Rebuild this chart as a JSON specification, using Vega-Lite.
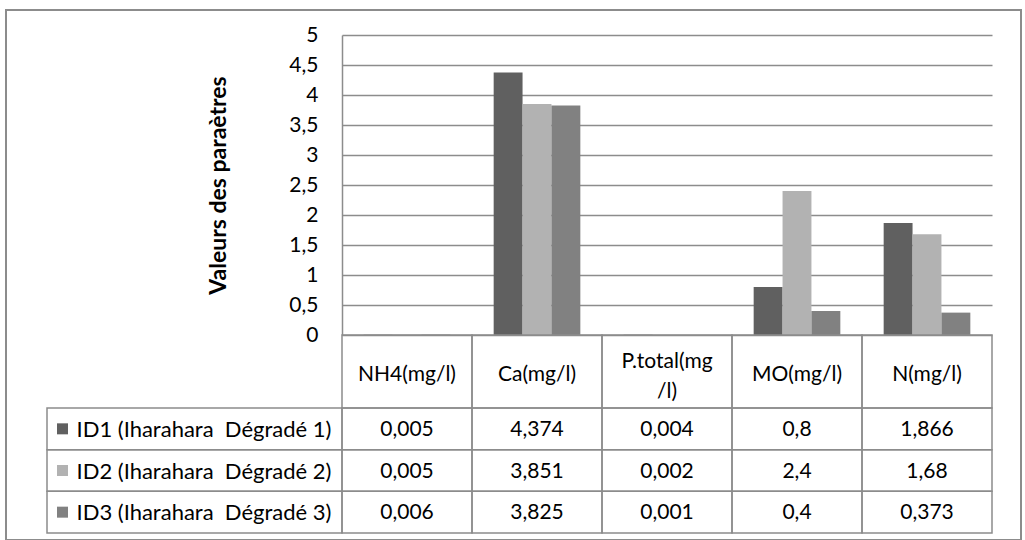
{
  "$schema": "https://vega.github.io/schema/vega-lite/v6.json",
  "width": 1015,
  "height": 530,
  "autosize": {"type": "none"},
  "padding": {"left": 6, "top": 10, "right": 4, "bottom": 0},
  "background": "white",
  "config": {
    "font": "Lato",
    "locale": {
      "number": {"decimal": ",", "thousands": " ", "grouping": [3], "currency": ["", " €"]}
    },
    "view": {"stroke": "#8c8c8c", "strokeWidth": 2},
    "text": {"font": "Lato", "fontSize": 21, "color": "#000000"}
  },
  "datasets": {
    "mesures": [
      {"parametre": "NH4(mg/l)", "serie": "ID1", "valeur": 0.005},
      {"parametre": "NH4(mg/l)", "serie": "ID2", "valeur": 0.005},
      {"parametre": "NH4(mg/l)", "serie": "ID3", "valeur": 0.006},
      {"parametre": "Ca(mg/l)", "serie": "ID1", "valeur": 4.374},
      {"parametre": "Ca(mg/l)", "serie": "ID2", "valeur": 3.851},
      {"parametre": "Ca(mg/l)", "serie": "ID3", "valeur": 3.825},
      {"parametre": "P.total(mg/l)", "serie": "ID1", "valeur": 0.004},
      {"parametre": "P.total(mg/l)", "serie": "ID2", "valeur": 0.002},
      {"parametre": "P.total(mg/l)", "serie": "ID3", "valeur": 0.001},
      {"parametre": "MO(mg/l)", "serie": "ID1", "valeur": 0.8},
      {"parametre": "MO(mg/l)", "serie": "ID2", "valeur": 2.4},
      {"parametre": "MO(mg/l)", "serie": "ID3", "valeur": 0.4},
      {"parametre": "N(mg/l)", "serie": "ID1", "valeur": 1.866},
      {"parametre": "N(mg/l)", "serie": "ID2", "valeur": 1.68},
      {"parametre": "N(mg/l)", "serie": "ID3", "valeur": 0.373}
    ],
    "parametres": [
      {"parametre": "NH4(mg/l)", "entete": "NH4(mg/l)", "lignes": 1},
      {"parametre": "Ca(mg/l)", "entete": "Ca(mg/l)", "lignes": 1},
      {"parametre": "P.total(mg/l)", "entete": "P.total(mg\n/l)", "lignes": 2},
      {"parametre": "MO(mg/l)", "entete": "MO(mg/l)", "lignes": 1},
      {"parametre": "N(mg/l)", "entete": "N(mg/l)", "lignes": 1}
    ],
    "series": [
      {"colonne": "légende", "serie": "ID1", "nom": "ID1 (Iharahara\u00a0 Dégradé 1)"},
      {"colonne": "légende", "serie": "ID2", "nom": "ID2 (Iharahara\u00a0 Dégradé 2)"},
      {"colonne": "légende", "serie": "ID3", "nom": "ID3 (Iharahara\u00a0 Dégradé 3)"}
    ]
  },
  "resolve": {"scale": {"x": "independent", "y": "independent"}},
  "layer": [
    {
      "data": {"name": "mesures"},
      "mark": {"type": "bar"},
      "encoding": {
        "x": {
          "field": "parametre", "type": "nominal",
          "scale": {
            "domain": ["NH4(mg/l)", "Ca(mg/l)", "P.total(mg/l)", "MO(mg/l)", "N(mg/l)"],
            "range": [336, 986], "paddingInner": 0.3333, "paddingOuter": 0.1667
          },
          "axis": null
        },
        "xOffset": {
          "field": "serie", "type": "nominal",
          "scale": {"domain": ["ID1", "ID2", "ID3"], "paddingInner": 0, "paddingOuter": 0}
        },
        "y": {
          "field": "valeur", "type": "quantitative",
          "scale": {"domain": [0, 5], "range": [325, 25], "nice": false},
          "axis": {
            "values": [0, 0.5, 1, 1.5, 2, 2.5, 3, 3.5, 4, 4.5, 5],
            "format": "~g",
            "offset": -336,
            "grid": true, "gridColor": "#8c8c8c", "gridWidth": 1.5,
            "domain": true, "domainColor": "#8c8c8c", "domainWidth": 1.5,
            "ticks": false, "tickSize": 0,
            "labelPadding": 24, "labelFont": "Lato", "labelFontSize": 21, "labelColor": "#000000",
            "title": "Valeurs des paraètres",
            "titleFont": "Lato", "titleFontSize": 23, "titleFontWeight": "bold", "titleColor": "#000000",
            "titlePadding": 58
          }
        },
        "color": {
          "field": "serie", "type": "nominal",
          "scale": {"domain": ["ID1", "ID2", "ID3"], "range": ["#606060", "#b2b2b2", "#818181"]},
          "legend": null
        }
      }
    },
    {
      "data": {"name": "parametres"},
      "mark": {"type": "rect", "fill": "transparent", "stroke": "#8c8c8c", "strokeWidth": 1.5},
      "encoding": {
        "x": {
          "field": "parametre", "type": "nominal",
          "scale": {
            "domain": ["NH4(mg/l)", "Ca(mg/l)", "P.total(mg/l)", "MO(mg/l)", "N(mg/l)"],
            "range": [336, 986], "paddingInner": 0, "paddingOuter": 0
          },
          "axis": null
        },
        "y": {
          "datum": "entête", "type": "nominal",
          "scale": {"domain": ["entête"], "range": [325, 398], "paddingInner": 0, "paddingOuter": 0},
          "axis": null
        }
      }
    },
    {
      "data": {"name": "parametres"},
      "transform": [{"filter": "datum.lignes == 1"}],
      "mark": {"type": "text", "baseline": "middle", "align": "center", "dy": 3},
      "encoding": {
        "x": {
          "field": "parametre", "type": "nominal",
          "scale": {
            "domain": ["NH4(mg/l)", "Ca(mg/l)", "P.total(mg/l)", "MO(mg/l)", "N(mg/l)"],
            "range": [336, 986], "paddingInner": 0, "paddingOuter": 0
          },
          "axis": null
        },
        "y": {
          "datum": "entête", "type": "nominal",
          "scale": {"domain": ["entête"], "range": [325, 398], "paddingInner": 0, "paddingOuter": 0},
          "axis": null
        },
        "text": {"field": "entete", "type": "nominal"}
      }
    },
    {
      "data": {"name": "parametres"},
      "transform": [{"filter": "datum.lignes == 2"}],
      "mark": {"type": "text", "lineBreak": "\n", "lineHeight": 30, "baseline": "middle", "align": "center", "dy": -10},
      "encoding": {
        "x": {
          "field": "parametre", "type": "nominal",
          "scale": {
            "domain": ["NH4(mg/l)", "Ca(mg/l)", "P.total(mg/l)", "MO(mg/l)", "N(mg/l)"],
            "range": [336, 986], "paddingInner": 0, "paddingOuter": 0
          },
          "axis": null
        },
        "y": {
          "datum": "entête", "type": "nominal",
          "scale": {"domain": ["entête"], "range": [325, 398], "paddingInner": 0, "paddingOuter": 0},
          "axis": null
        },
        "text": {"field": "entete", "type": "nominal"}
      }
    },
    {
      "data": {"name": "mesures"},
      "mark": {"type": "rect", "fill": "transparent", "stroke": "#8c8c8c", "strokeWidth": 1.5},
      "encoding": {
        "x": {
          "field": "parametre", "type": "nominal",
          "scale": {
            "domain": ["NH4(mg/l)", "Ca(mg/l)", "P.total(mg/l)", "MO(mg/l)", "N(mg/l)"],
            "range": [336, 986], "paddingInner": 0, "paddingOuter": 0
          },
          "axis": null
        },
        "y": {
          "field": "serie", "type": "nominal",
          "scale": {"domain": ["ID1", "ID2", "ID3"], "range": [398, 523], "paddingInner": 0, "paddingOuter": 0},
          "axis": null
        }
      }
    },
    {
      "data": {"name": "mesures"},
      "mark": {"type": "text", "baseline": "middle", "align": "center", "dy": 1},
      "encoding": {
        "x": {
          "field": "parametre", "type": "nominal",
          "scale": {
            "domain": ["NH4(mg/l)", "Ca(mg/l)", "P.total(mg/l)", "MO(mg/l)", "N(mg/l)"],
            "range": [336, 986], "paddingInner": 0, "paddingOuter": 0
          },
          "axis": null
        },
        "y": {
          "field": "serie", "type": "nominal",
          "scale": {"domain": ["ID1", "ID2", "ID3"], "range": [398, 523], "paddingInner": 0, "paddingOuter": 0},
          "axis": null
        },
        "text": {"field": "valeur", "type": "quantitative", "format": "~g"}
      }
    },
    {
      "data": {"name": "series"},
      "mark": {"type": "rect", "fill": "transparent", "stroke": "#8c8c8c", "strokeWidth": 1.5},
      "encoding": {
        "x": {
          "field": "colonne", "type": "nominal",
          "scale": {"domain": ["légende"], "range": [41, 336], "paddingInner": 0, "paddingOuter": 0},
          "axis": null
        },
        "y": {
          "field": "serie", "type": "nominal",
          "scale": {"domain": ["ID1", "ID2", "ID3"], "range": [398, 523], "paddingInner": 0, "paddingOuter": 0},
          "axis": null
        }
      }
    },
    {
      "data": {"name": "series"},
      "mark": {"type": "square", "size": 121, "filled": true, "opacity": 1, "xOffset": -132},
      "encoding": {
        "x": {
          "field": "colonne", "type": "nominal",
          "scale": {"domain": ["légende"], "range": [41, 336], "paddingInner": 0, "paddingOuter": 0},
          "axis": null
        },
        "y": {
          "field": "serie", "type": "nominal",
          "scale": {"domain": ["ID1", "ID2", "ID3"], "range": [398, 523], "paddingInner": 0, "paddingOuter": 0},
          "axis": null
        },
        "color": {"field": "serie", "type": "nominal", "legend": null}
      }
    },
    {
      "data": {"name": "series"},
      "mark": {"type": "text", "baseline": "middle", "align": "left", "fontSize": 22, "dx": -118, "dy": 1},
      "encoding": {
        "x": {
          "field": "colonne", "type": "nominal",
          "scale": {"domain": ["légende"], "range": [41, 336], "paddingInner": 0, "paddingOuter": 0},
          "axis": null
        },
        "y": {
          "field": "serie", "type": "nominal",
          "scale": {"domain": ["ID1", "ID2", "ID3"], "range": [398, 523], "paddingInner": 0, "paddingOuter": 0},
          "axis": null
        },
        "text": {"field": "nom", "type": "nominal"}
      }
    }
  ]
}
